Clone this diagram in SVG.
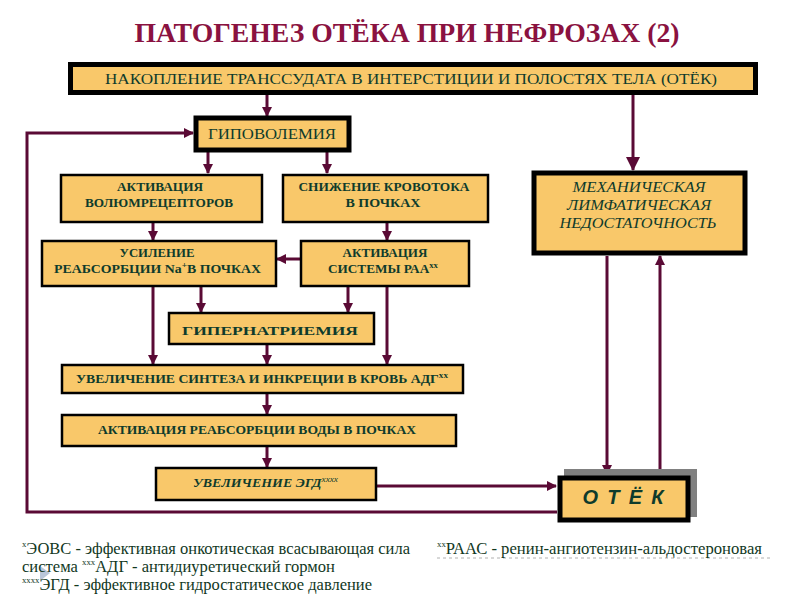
<svg xmlns="http://www.w3.org/2000/svg" width="800" height="600" viewBox="0 0 800 600">
<defs>
<marker id="ah" markerUnits="userSpaceOnUse" markerWidth="10" markerHeight="10" refX="9" refY="5" orient="auto">
<path d="M0,0 L10,5 L0,10 Z" fill="#5A0A35"/>
</marker>
<marker id="ahb" markerUnits="userSpaceOnUse" markerWidth="14" markerHeight="14" refX="13" refY="7" orient="auto">
<path d="M0,0 L14,7 L0,14 Z" fill="#5A0A35"/>
</marker>
</defs>
<style>
.box{fill:#F9C86A;stroke:#000;stroke-width:2.5}
.thick{fill:#F9C86A;stroke:#000;stroke-width:5}
text{font-family:Liberation Serif,Times New Roman,DejaVu Serif,serif}
.t{fill:#0E3B2C;font-weight:bold;font-size:12px}
.tr{fill:#0E3B2C;font-size:14px}
.ti{fill:#0E3B2C;font-style:italic;font-size:15px}
.c{fill:none;stroke:#5A0A35;stroke-width:3}
.fn{fill:#12381E;font-size:17px}
.sup{font-size:8px}
.fs{font-size:9px}
</style>
<rect width="800" height="600" fill="#fff"/>
<text x="407" y="42" text-anchor="middle" font-weight="bold" font-size="28" fill="#8A1240" textLength="545" lengthAdjust="spacingAndGlyphs">ПАТОГЕНЕЗ  ОТЁКА  ПРИ  НЕФРОЗАХ (2)</text>

<g id="connectors">
<line class="c" x1="267" y1="95" x2="267" y2="116" marker-end="url(#ah)"/>
<line class="c" x1="633" y1="95" x2="633" y2="170" stroke-width="4" marker-end="url(#ahb)"/>
<line class="c" x1="208" y1="152" x2="208" y2="173" marker-end="url(#ah)"/>
<line class="c" x1="327" y1="152" x2="327" y2="173" marker-end="url(#ah)"/>
<line class="c" x1="153" y1="222" x2="153" y2="240" marker-end="url(#ah)"/>
<line class="c" x1="387" y1="222" x2="387" y2="240" marker-end="url(#ah)"/>
<line class="c" x1="301" y1="259" x2="277" y2="259" marker-end="url(#ah)"/>
<line class="c" x1="153" y1="286" x2="153" y2="364" marker-end="url(#ah)"/>
<line class="c" x1="201" y1="286" x2="201" y2="312" marker-end="url(#ah)"/>
<line class="c" x1="348" y1="286" x2="348" y2="312" marker-end="url(#ah)"/>
<line class="c" x1="387" y1="286" x2="387" y2="364" marker-end="url(#ah)"/>
<line class="c" x1="267" y1="345" x2="267" y2="364" marker-end="url(#ah)"/>
<line class="c" x1="267" y1="394" x2="267" y2="414" marker-end="url(#ah)"/>
<line class="c" x1="267" y1="447" x2="267" y2="467" marker-end="url(#ah)"/>
<line class="c" x1="376" y1="486" x2="556" y2="486" marker-end="url(#ah)"/>
<polyline class="c" points="557,512 27,512 27,133 193,133" marker-end="url(#ah)"/>
<line class="c" x1="607" y1="256" x2="607" y2="474" marker-end="url(#ah)"/>
<line class="c" x1="660" y1="478" x2="660" y2="256" marker-end="url(#ah)"/>
</g>

<g id="n-top">
<rect class="thick" x="70.5" y="64.5" width="685" height="28" stroke-width="6"/>
<text class="tr" x="411" y="84" text-anchor="middle" textLength="612" lengthAdjust="spacingAndGlyphs">НАКОПЛЕНИЕ  ТРАНССУДАТА  В  ИНТЕРСТИЦИИ  И  ПОЛОСТЯХ ТЕЛА (ОТЁК)</text>
</g>

<g id="n-hypovol">
<rect class="thick" x="196" y="118" width="153" height="32" stroke-width="4"/>
<text class="tr" x="272" y="139" text-anchor="middle" font-size="15" textLength="128" lengthAdjust="spacingAndGlyphs">ГИПОВОЛЕМИЯ</text>
</g>

<g id="n-volum">
<rect class="box" x="61" y="175" width="201" height="47"/>
<text class="t" x="160" y="191" text-anchor="middle" textLength="86" lengthAdjust="spacingAndGlyphs">АКТИВАЦИЯ</text>
<text class="t" x="159" y="207" text-anchor="middle" textLength="148" lengthAdjust="spacingAndGlyphs">ВОЛЮМРЕЦЕПТОРОВ</text>
</g>

<g id="n-krovotok">
<rect class="box" x="283" y="175" width="205" height="47"/>
<text class="t" x="384" y="191" text-anchor="middle" textLength="171" lengthAdjust="spacingAndGlyphs">СНИЖЕНИЕ  КРОВОТОКА</text>
<text class="t" x="383" y="207" text-anchor="middle" textLength="75" lengthAdjust="spacingAndGlyphs">В  ПОЧКАХ</text>
</g>

<g id="n-na">
<rect class="box" x="42" y="241" width="234" height="45"/>
<text class="t" x="157" y="257" text-anchor="middle" textLength="75" lengthAdjust="spacingAndGlyphs">УСИЛЕНИЕ</text>
<text class="t" x="54" y="273" textLength="207" lengthAdjust="spacingAndGlyphs">РЕАБСОРБЦИИ  Na<tspan class="sup" dy="-5">+</tspan><tspan dy="5">В  ПОЧКАХ</tspan></text>
</g>

<g id="n-raa">
<rect class="box" x="301" y="241" width="168" height="45"/>
<text class="t" x="385" y="257" text-anchor="middle" textLength="85" lengthAdjust="spacingAndGlyphs">АКТИВАЦИЯ</text>
<text class="t" x="328" y="273" textLength="110" lengthAdjust="spacingAndGlyphs">СИСТЕМЫ  РАА<tspan class="sup" dy="-5">хх</tspan></text>
</g>

<g id="n-hypernat">
<rect class="box" x="169" y="313" width="205" height="31" stroke-width="3"/>
<text class="t" x="270" y="335" text-anchor="middle" font-size="17" textLength="176" lengthAdjust="spacingAndGlyphs">ГИПЕРНАТРИЕМИЯ</text>
</g>

<g id="n-adg">
<rect class="box" x="62" y="365" width="401" height="28" stroke-width="3"/>
<text class="t" x="76" y="383" textLength="372" lengthAdjust="spacingAndGlyphs">УВЕЛИЧЕНИЕ  СИНТЕЗА  И ИНКРЕЦИИ  В  КРОВЬ АДГ<tspan class="sup" dy="-5">хх</tspan></text>
</g>

<g id="n-water">
<rect class="box" x="62" y="415" width="394" height="31" stroke-width="3"/>
<text class="t" x="257" y="434" text-anchor="middle" textLength="318" lengthAdjust="spacingAndGlyphs">АКТИВАЦИЯ РЕАБСОРБЦИИ ВОДЫ  В  ПОЧКАХ</text>
</g>

<g id="n-egd">
<rect class="box" x="156" y="468" width="220" height="32" stroke-width="3"/>
<text class="t" x="193" y="487" font-style="italic" textLength="145" lengthAdjust="spacingAndGlyphs">УВЕЛИЧЕНИЕ  ЭГД<tspan class="sup" dy="-5" font-weight="normal">хххх</tspan></text>
</g>

<g id="n-mech">
<rect class="thick" x="534" y="173" width="211" height="80"/>
<text class="ti" x="639" y="192" text-anchor="middle" textLength="133" lengthAdjust="spacingAndGlyphs">МЕХАНИЧЕСКАЯ</text>
<text class="ti" x="639" y="210" text-anchor="middle" textLength="144" lengthAdjust="spacingAndGlyphs">ЛИМФАТИЧЕСКАЯ</text>
<text class="ti" x="638" y="228" text-anchor="middle" textLength="157" lengthAdjust="spacingAndGlyphs">НЕДОСТАТОЧНОСТЬ</text>
</g>

<g id="n-otek">
<rect x="564" y="469" width="133" height="48" fill="#808080"/>
<rect class="thick" x="560" y="478" width="128" height="42" stroke-width="6"/>
<text x="623" y="504" text-anchor="middle" style="font-family:Liberation Sans,Arial,sans-serif" font-weight="bold" font-style="italic" font-size="20" fill="#0E3B2C" textLength="81" lengthAdjust="spacing">О Т Ё К</text>
</g>

<g id="footnotes">
<line x1="437" y1="558" x2="770" y2="558" stroke="#B0B0B0" stroke-width="1" stroke-dasharray="3,3"/>
<polygon points="40,566 50,573 40,581" fill="#A8B8D0" opacity="0.8"/>
<text class="fn" x="22" y="554" textLength="388" lengthAdjust="spacingAndGlyphs"><tspan class="fs" dy="-7">х</tspan><tspan dy="7">ЭОВС - эффективная онкотическая всасывающая сила</tspan></text>
<text class="fn" x="437" y="554" textLength="325" lengthAdjust="spacingAndGlyphs"><tspan class="fs" dy="-7">хх</tspan><tspan dy="7">РААС - ренин-ангиотензин-альдостероновая</tspan></text>
<text class="fn" x="22" y="572" textLength="313" lengthAdjust="spacingAndGlyphs">система <tspan class="fs" dy="-7">ххх</tspan><tspan dy="7">АДГ - антидиуретический гормон</tspan></text>
<text class="fn" x="22" y="590" textLength="350" lengthAdjust="spacingAndGlyphs"><tspan class="fs" dy="-7">хххх</tspan><tspan dy="7">ЭГД - эффективное гидростатическое давление</tspan></text>
</g>
</svg>
